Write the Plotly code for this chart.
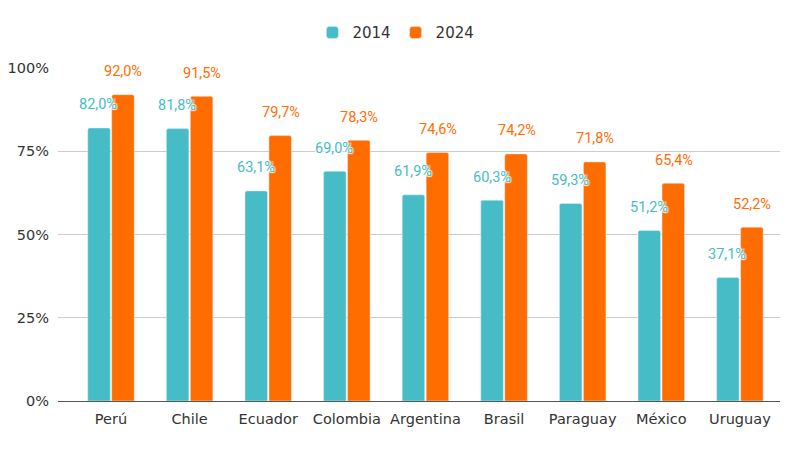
import plotly.graph_objects as go

# datos
paises = ["Perú", "Chile", "Ecuador", "Colombia", "Argentina", "Brasil", "Paraguay", "México", "Uruguay"]
valores_2014 = [82.0, 81.8, 63.1, 69.0, 61.9, 60.3, 59.3, 51.2, 37.1]
valores_2024 = [92.0, 91.5, 79.7, 78.3, 74.6, 74.2, 71.8, 65.4, 52.2]

color_2014 = "#46BDC6"
color_2024 = "#FF6D01"

fig = go.Figure()
fig.add_trace(go.Bar(x=paises, y=valores_2014, name="2014", marker=dict(color=color_2014)))
fig.add_trace(go.Bar(x=paises, y=valores_2024, name="2024", marker=dict(color=color_2024)))

# etiquetas de datos por encima de cada barra
sombra = "1px 1px 1px white, -1px -1px 1px white, 1px -1px 1px white, -1px 1px 1px white"
for serie, color, dx in [(valores_2014, color_2014, -12.5), (valores_2024, color_2024, 12.5)]:
    for p, v in zip(paises, serie):
        fig.add_annotation(x=p, y=v, text=f"{v:.1f}%".replace(".", ","), showarrow=False,
                           xshift=dx, yshift=23, yanchor="middle",
                           font=dict(family="Roboto", size=14.5, color=color, shadow=sombra))

fig.update_layout(
    width=800, height=450,
    margin=dict(l=50, r=28, t=59, b=57, autoexpand=False),
    plot_bgcolor="white", paper_bgcolor="white",
    barmode="group", bargap=0.39, bargroupgap=0.06, barcornerradius=2,
    font=dict(family="DejaVu Sans", size=14.5, color="#333333"),
    legend=dict(orientation="h", x=0.468, xanchor="center", y=0.945, yanchor="middle",
                yref="container", font=dict(size=15, color="#333333")),
    showlegend=True,
)

fig.update_xaxes(range=[-0.674, 8.51], showline=True, linecolor="#555555", linewidth=1,
                 ticks="", tickfont=dict(size=14.5, color="#333333"), ticklabelstandoff=5)
fig.update_yaxes(range=[0, 100.3], tickvals=[0, 25, 50, 75, 100],
                 ticktext=["0%", "25%", "50%", "75%", "100%"],
                 showgrid=True, gridcolor="#CCCCCC", gridwidth=1, zeroline=False,
                 tickfont=dict(size=14.5, color="#333333"), ticklabelstandoff=8)

fig.write_html("out.html")
